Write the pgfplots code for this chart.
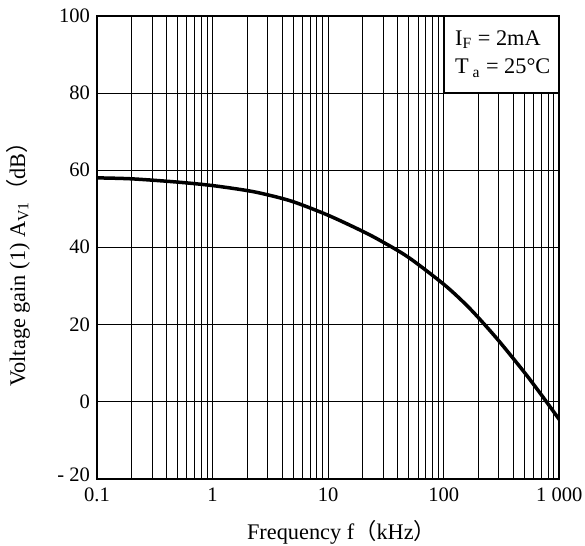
\documentclass[border=0pt]{standalone}
\usepackage{pgfplots}
\pgfplotsset{compat=1.18}
\usepackage{fontspec}
\setmainfont{Liberation Serif}
\newfontfamily\cjk{Noto Sans CJK SC}
\begin{document}
\begin{tikzpicture}[font=\fontsize{11.2}{13.4}\selectfont]
\useasboundingbox (0,0) rectangle (292.5bp,273bp);
\begin{axis}[
  at={(48.5bp,33.75bp)}, anchor=south west,
  scale only axis, width=231.15bp, height=231.25bp,
  xmode=log, xmin=0.1, xmax=1000, ymin=-20, ymax=100,
  xtick={0.1,1,10,100,1000}, xticklabels={0.1,1,10,100,1 000},
  minor xtick={0.2,0.3,0.4,0.5,0.6,0.7,0.8,0.9,2,3,4,5,6,7,8,9,20,30,40,50,60,70,80,90,200,300,400,500,600,700,800,900},
  ytick={-20,0,20,40,60,80,100}, yticklabels={\raisebox{4.25bp}{- 20},0,20,40,60,80,100},
  xmajorgrids, xminorgrids, ymajorgrids,
  grid style={black, line width=0.5bp},
  minor grid style={black, line width=0.5bp},
  axis line style={line width=1bp},
  major tick length=0pt, minor tick length=0pt,
  /pgf/number format/assume math mode=true,
  tick label style={font=\fontsize{10.3}{12.4}\selectfont},
  xticklabel style={yshift=-1.25bp},
  xlabel={Frequency f{\cjk（}kHz{\cjk）}},
  xlabel style={at={(axis description cs:0.529,-0.1157)}, anchor=center},
  ylabel={Voltage gain (1) A\textsubscript{V1}{\cjk（}dB{\cjk）}},
  ylabel style={at={(axis description cs:-0.1709,0.475)}, anchor=center},
]
\addplot[black, line width=1.75bp, smooth] coordinates {
(0.1,58) (0.2,57.75) (0.5,56.9) (1,56) (2,54.7) (3,53.6) (5,51.8) (10,48.3)
(20,44.1) (30,41.3) (50,37.3) (100,30.4) (150,25.6) (200,21.7)
(300,15.7) (500,7.5) (700,1.7) (1000,-4.7)
};
\draw[fill=white, line width=0.8bp] (axis cs:100,80) rectangle (axis cs:1000,100);
\node[anchor=base west, inner sep=0pt] at (rel axis cs:0.774,0.937) {I\textsubscript{F} = 2mA};
\node[anchor=base west, inner sep=0pt] at (rel axis cs:0.774,0.875) {T\,\textsubscript{a} = 25°C};
\end{axis}
\end{tikzpicture}
\end{document}
